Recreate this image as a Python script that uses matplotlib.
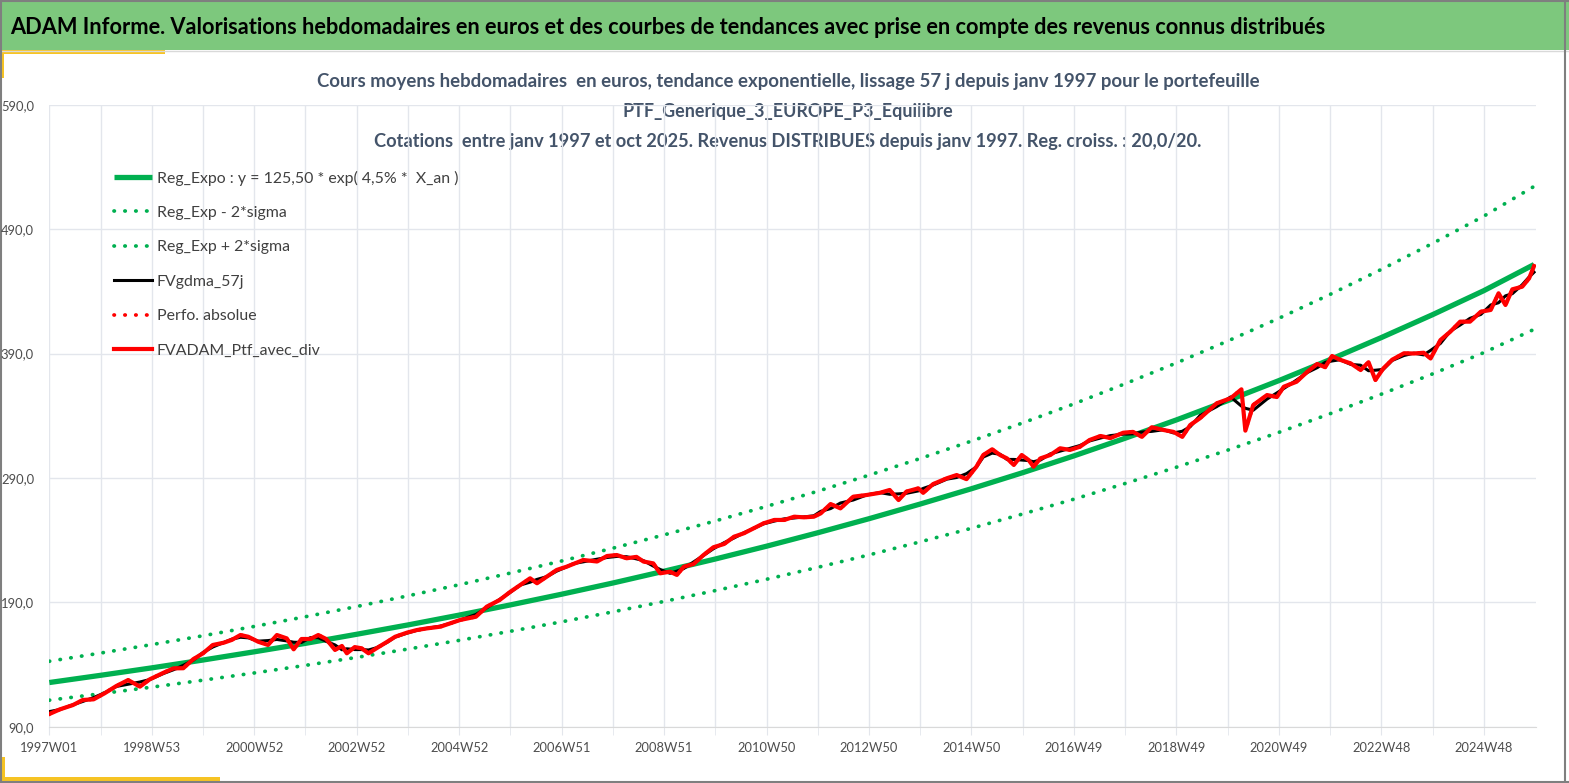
import matplotlib.pyplot as plt
import numpy as np
import pandas as pd
from matplotlib.patches import Rectangle

plt.rcParams['font.family'] = ['Lato', 'DejaVu Sans']

W, H = 1569, 783

titre = ("ADAM Informe. Valorisations hebdomadaires en euros et des courbes de tendances "
         "avec prise en compte des revenus connus distribués")
sous_titre = ["Cours moyens hebdomadaires  en euros, tendance exponentielle, lissage 57 j depuis janv 1997 pour le portefeuille",
              "PTF_Generique_3_EUROPE_P3_Equilibre",
              "Cotations  entre janv 1997 et oct 2025. Revenus DISTRIBUES depuis janv 1997. Reg. croiss. : 20,0/20."]

# axe x : index de semaine, 0 = 1997W01
x_lbl = ['1997W01', '1998W53', '2000W52', '2002W52', '2004W52', '2006W51', '2008W51',
         '2010W50', '2012W50', '2014W50', '2016W49', '2018W49', '2020W49', '2022W48', '2024W48']
y_ticks = [90, 190, 290, 390, 490, 590]
y_lbl = ['90,0', '190,0', '290,0', '390,0', '490,0', '590,0']

# courbes de tendance, une valeur par an
sem_tend = [0, 52, 104, 156, 208, 260, 312, 364, 416, 468, 520, 572, 624, 676, 728,
            780, 832, 884, 936, 988, 1040, 1092, 1144, 1196, 1248, 1300, 1352, 1404, 1456, 1507]
reg_expo = [125.5, 131.3, 137.3, 143.6, 150.2, 157.0, 164.3, 171.8, 179.7, 187.9, 196.5, 205.5,
            215.0, 224.8, 235.1, 245.9, 257.2, 269.0, 281.3, 294.2, 307.7, 321.9, 336.6, 352.1,
            368.2, 385.1, 402.8, 421.2, 440.5, 461.5]
reg_plus = [142.6, 149.2, 156.0, 163.1, 170.6, 178.4, 186.6, 195.2, 204.1, 213.5, 223.2, 233.5,
            244.2, 255.4, 267.1, 279.3, 292.2, 305.6, 319.6, 334.2, 349.5, 365.7, 382.4, 400.0,
            418.3, 437.5, 457.6, 478.5, 500.4, 524.3]
reg_moins = [111.3, 116.5, 121.8, 127.4, 133.2, 139.3, 145.7, 152.4, 159.4, 166.7, 174.3, 182.3,
             190.7, 199.4, 208.5, 218.1, 228.1, 238.6, 249.5, 261.0, 272.9, 285.5, 298.6, 312.3,
             326.6, 341.6, 357.3, 373.6, 390.7, 409.4]

# portefeuille avec dividendes
sem_ptf = [0, 11, 24, 34, 45, 56, 68, 80, 92, 102, 116, 126, 136, 146, 156, 166, 177, 185, 194, 202,
           212, 222, 231, 241, 248, 256, 265, 273, 281, 290, 297, 302, 310, 317, 324, 332, 343, 351,
           363, 373, 383, 397, 407, 417, 433, 444, 457, 468, 478, 488, 495, 505, 515, 525, 532, 542,
           556, 566, 576, 586, 596, 603, 613, 620, 630, 637, 644, 654, 664, 674, 685, 695, 705, 715,
           725, 736, 746, 756, 766, 776, 783, 793, 803, 816, 830, 843, 853, 862, 870, 882, 887, 897,
           911, 921, 931, 941, 948, 957, 965, 972, 979, 987, 994, 999, 1006, 1016, 1026, 1036, 1046,
           1056, 1067, 1077, 1090, 1100, 1109, 1119, 1131, 1141, 1150, 1158, 1168, 1185, 1199, 1210,
           1214, 1222, 1236, 1246, 1253, 1266, 1277, 1287, 1295, 1302, 1310, 1321, 1331, 1339, 1346,
           1354, 1363, 1375, 1385, 1395, 1402, 1412, 1422, 1432, 1442, 1453, 1463, 1471, 1478, 1485,
           1495, 1502, 1507]
val_ptf = [100.2, 104.0, 107.4, 111.5, 112.0, 116.8, 122.7, 127.5, 122.2, 128.1, 133.4, 136.9, 137.0,
           144.2, 149.0, 155.7, 157.5, 159.7, 163.7, 162.3, 158.3, 155.7, 163.7, 161.0, 152.2, 160.5,
           160.5, 163.7, 160.5, 151.7, 154.9, 149.0, 154.0, 153.0, 149.0, 153.0, 158.3, 162.3, 165.6,
           167.7, 169.0, 170.4, 173.1, 175.8, 178.4, 186.5, 191.8, 198.5, 203.9, 209.3, 205.3, 210.6,
           216.0, 218.6, 220.8, 224.0, 222.8, 227.2, 228.0, 225.4, 226.5, 222.8, 221.3, 213.3, 214.6,
           212.0, 218.6, 220.8, 228.0, 234.2, 236.9, 242.7, 245.5, 249.5, 253.5, 256.2, 256.2, 258.8,
           258.3, 258.8, 261.5, 269.0, 265.5, 274.9, 276.3, 278.0, 280.3, 272.2, 279.0, 281.6, 278.0,
           285.0, 289.7, 292.3, 289.0, 299.0, 308.4, 313.0, 308.4, 305.7, 300.4, 308.4, 304.4, 299.0,
           305.7, 308.4, 313.8, 312.5, 315.0, 320.5, 323.7, 322.0, 326.3, 327.0, 323.0, 330.7, 328.5,
           327.0, 323.0, 332.5, 338.0, 350.0, 354.0, 361.2, 328.0, 348.6, 356.6, 355.0, 363.3, 367.3,
           375.4, 381.6, 379.0, 388.0, 385.0, 382.0, 376.7, 383.0, 368.7, 378.0, 385.0, 390.2, 390.0,
           390.6, 386.0, 400.8, 407.5, 415.6, 415.6, 423.6, 425.0, 438.4, 429.0, 441.6, 443.7, 450.4,
           460.3]

# lissage (moyenne mobile centree) du portefeuille
val_lisse = pd.Series(val_ptf).rolling(3, center=True, min_periods=1).mean().values

vert = '#00B050'
rouge = '#FF0000'
grille = '#E3E6EC'
gris_txt = '#4D4D4D'
jaune = '#F6C323'

fig = plt.figure(figsize=(W / 100, H / 100), dpi=100)
rend = fig.canvas.get_renderer()


def taille_pour(txt, largeur, **kw):
    # taille de police qui donne la largeur voulue (en pixels)
    t = fig.text(0, 0, txt, fontsize=10, **kw)
    w = t.get_window_extent(rend).width
    t.remove()
    return 10 * largeur / w


# décor : bandeau vert, filets jaunes, cadre
deco = fig.add_axes([0, 0, 1, 1], zorder=0)
deco.set_xlim(0, W)
deco.set_ylim(H, 0)
deco.axis('off')
deco.add_patch(Rectangle((0, 0), W, 50, facecolor='#7DC87D', edgecolor='none'))
deco.plot([0, W], [51, 51], color='#D9D9D9', lw=1)
deco.add_patch(Rectangle((0, 50), 165, 4, facecolor=jaune, edgecolor='none'))
deco.add_patch(Rectangle((0, 50), 4, 28, facecolor=jaune, edgecolor='none'))
deco.add_patch(Rectangle((0, 777), 220, 5, facecolor=jaune, edgecolor='none'))
deco.add_patch(Rectangle((0, 757), 5, 25, facecolor=jaune, edgecolor='none'))
deco.plot([1, 1], [0, H], color='#7F7F7F', lw=1.5)
deco.plot([0, W], [0.8, 0.8], color='#7F7F7F', lw=1.5)
deco.plot([1565, 1565], [0, H], color='#7F7F7F', lw=1.5)
deco.plot([0, W], [781.5, 781.5], color='#7F7F7F', lw=1.5)

deco.text(10, 27, titre, fontsize=taille_pour(titre, 1320, fontweight='bold'),
          fontweight='bold', color='black', va='center', ha='left')
larg_st = [946, 330, 828]
for txt, yy, lg in zip(sous_titre, [82, 112, 141], larg_st):
    deco.text(788, yy, txt, fontsize=taille_pour(txt, lg, fontweight='bold'), fontweight='bold',
              color='#44546A', va='center', ha='center')

ax = fig.add_axes([49.3 / W, (H - 726.7) / H, (1536 - 49.3) / W, (726.7 - 104.7) / H], zorder=1)
ax.set_facecolor('none')

ax.plot(sem_tend, reg_expo, color=vert, lw=3.8, solid_capstyle='butt',
        label='Reg_Expo : y = 125,50 * exp( 4,5% *  X_an )')
ax.plot(sem_tend, reg_moins, color=vert, lw=2.7, linestyle=(0, (0.1, 2.8)), dash_capstyle='round',
        label='Reg_Exp - 2*sigma')
ax.plot(sem_tend, reg_plus, color=vert, lw=2.7, linestyle=(0, (0.1, 2.8)), dash_capstyle='round',
        label='Reg_Exp + 2*sigma')
ax.plot(sem_ptf, val_lisse, color='black', lw=2.2, label='FVgdma_57j')
ax.plot(sem_ptf, val_ptf, color=rouge, lw=2.7, linestyle=(0, (0.1, 2.8)), dash_capstyle='round',
        label='Perfo. absolue')
ax.plot(sem_ptf, val_ptf, color=rouge, lw=3.0, label='FVADAM_Ptf_avec_div')

ax.set_xlim(0, 1509)
ax.set_ylim(90, 590)
ax.set_xticks(range(0, 1457, 104))
ax.set_xticklabels(x_lbl)
ax.set_xticks(range(52, 1457, 104), minor=True)
ax.set_yticks(y_ticks)
ax.set_yticklabels(y_lbl)
ax.grid(True, which='both', axis='x', color=grille, lw=1)
ax.grid(True, axis='y', color=grille, lw=1)
ax.set_axisbelow(True)
for s in ['left', 'right', 'top']:
    ax.spines[s].set_visible(False)
ax.spines['bottom'].set_color('#D9D9D9')
ax.tick_params(axis='x', which='both', length=6, color=grille,
               labelsize=taille_pour('1998W53', 58), labelcolor=gris_txt, pad=5)
ax.tick_params(axis='y', length=0, labelsize=taille_pour('590,0', 33), labelcolor=gris_txt, pad=11)

fs_leg = taille_pour('Reg_Expo : y = 125,50 * exp( 4,5% *  X_an )', 301)
fpx = fs_leg * 100 / 72
leg = fig.legend(loc='upper left', bbox_to_anchor=(114 / W, 1 - 170.5 / H), frameon=False,
                 fontsize=fs_leg, handlelength=38 / fpx, handletextpad=0.3,
                 labelspacing=(34.3 + 5.9) / fpx - 1.25, borderaxespad=0, borderpad=0,
                 handles=ax.get_lines())
for t in leg.get_texts():
    t.set_color('#404040')

fig.savefig('out.png', dpi=100)
